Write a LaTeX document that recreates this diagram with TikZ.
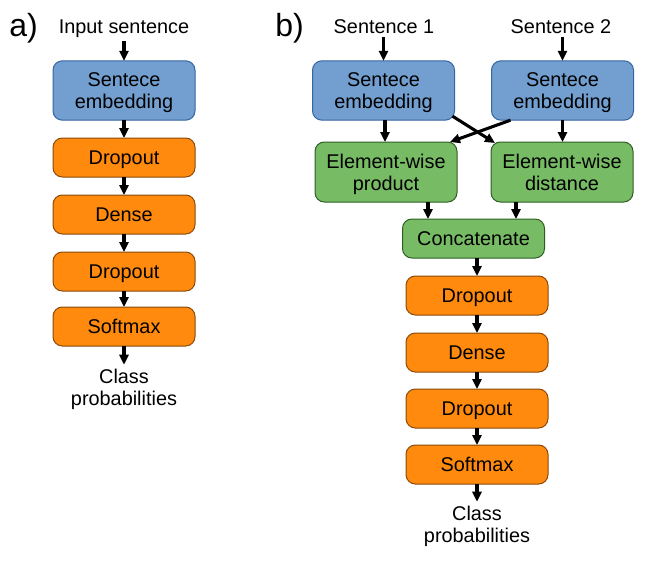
\documentclass[tikz,border=0pt]{standalone}
\usepackage{fontspec}
\setmainfont{Liberation Sans}
\usetikzlibrary{arrows.meta}
\definecolor{bfill}{HTML}{729FCF}
\definecolor{bdraw}{HTML}{3465A4}
\definecolor{ofill}{HTML}{FF8A0D}
\definecolor{odraw}{HTML}{8A4A0A}
\definecolor{gfill}{HTML}{77BC65}
\definecolor{gdraw}{HTML}{2C5E22}
\begin{document}
\begin{tikzpicture}[x=0.75pt,y=-0.75pt,
  txt/.style={font=\fontsize{14.9}{16.2}\selectfont, align=center},
  box/.style={txt, draw, rounded corners=7pt, line width=0.75pt, minimum width=106.5pt, inner sep=0pt, outer sep=0pt, text depth=0pt},
  blu/.style={box, fill=bfill, draw=bdraw, minimum height=44.5pt},
  grn/.style={box, fill=gfill, draw=gdraw, minimum height=45pt},
  grnS/.style={box, fill=gfill, draw=gdraw, minimum height=29.25pt},
  org/.style={box, fill=ofill, draw=odraw, minimum height=29.25pt},
  lbl/.style={txt, inner sep=3pt},
  tag/.style={font=\fontsize{24}{28}\selectfont, inner sep=0pt, anchor=base west},
  arr/.style={-{Triangle[length=7.5pt,width=6.8pt]}, line width=2.3pt}
]
\useasboundingbox (0,0) rectangle (650,565);

% panel labels
\node[tag] (ta) at (9,36) {a)};
\node[tag] (tb) at (275,36) {b)};

% ---------- a) ----------
\node[lbl, anchor=base] (inL) at (124,33) {Input sentence};
\node[blu] (embL) at (124,90.5) {Sentece\\embedding};
\node[org] (dL1) at (124,157.5) {Dropout};
\node[org] (deL) at (124,214.5) {Dense};
\node[org] (dL2) at (124,271.5) {Dropout};
\node[org] (smL) at (124,326.5) {Softmax};
\node[lbl, anchor=base] (outL) at (124,405) {Class\\probabilities};

\draw[arr] (inL.south) -- (embL.north);
\draw[arr] (embL.south) -- (dL1.north);
\draw[arr] (dL1.south) -- (deL.north);
\draw[arr] (deL.south) -- (dL2.north);
\draw[arr] (dL2.south) -- (smL.north);
\draw[arr] (smL.south) -- (outL.north);

% ---------- b) ----------
\node[lbl, anchor=base] (s1) at (384,33) {Sentence 1};
\node[lbl, anchor=base] (s2) at (561,33) {Sentence 2};
\node[blu] (embR1) at (383.5,90.5) {Sentece\\embedding};
\node[blu] (embR2) at (562.5,90.5) {Sentece\\embedding};
\node[grn] (gL) at (386,172) {Element-wise\\product};
\node[grn] (gR) at (562,172) {Element-wise\\distance};
\node[grnS] (cc) at (473.5,238.5) {Concatenate};
\node[org] (dR1) at (477,295.5) {Dropout};
\node[org] (deR) at (477,352.5) {Dense};
\node[org] (dR2) at (477,408.5) {Dropout};
\node[org] (smR) at (477,464.5) {Softmax};
\node[lbl, anchor=base] (outR) at (477,542) {Class\\probabilities};

\draw[arr] (s1.south -| embR1) -- (embR1.north);
\draw[arr] (s2.south -| embR2) -- (embR2.north);
\draw[arr] ([shift={(1.5,0)}]embR1.south) -- ([shift={(1.5,0)}]embR1.south |- gL.north);
\draw[arr] (embR2.south) -- (embR2.south |- gR.north);
\draw[arr] ([shift={(-2,-4)}]embR1.south east) -- ([shift={(4,1)}]gR.north west);
\draw[arr] ([shift={(-52,0)}]embR2.south) -- ([shift={(-7,0)}]gL.north east);
\draw[arr] ([shift={(42,0)}]gL.south) -- ([shift={(42,0)}]gL.south |- cc.north);
\draw[arr] ([shift={(-46,0)}]gR.south) -- ([shift={(-46,0)}]gR.south |- cc.north);
\draw[arr] (dR1.north |- cc.south) -- (dR1.north);
\draw[arr] (dR1.south) -- (deR.north);
\draw[arr] (deR.south) -- (dR2.north);
\draw[arr] (dR2.south) -- (smR.north);
\draw[arr] (smR.south) -- (outR.north);
\end{tikzpicture}
\end{document}
